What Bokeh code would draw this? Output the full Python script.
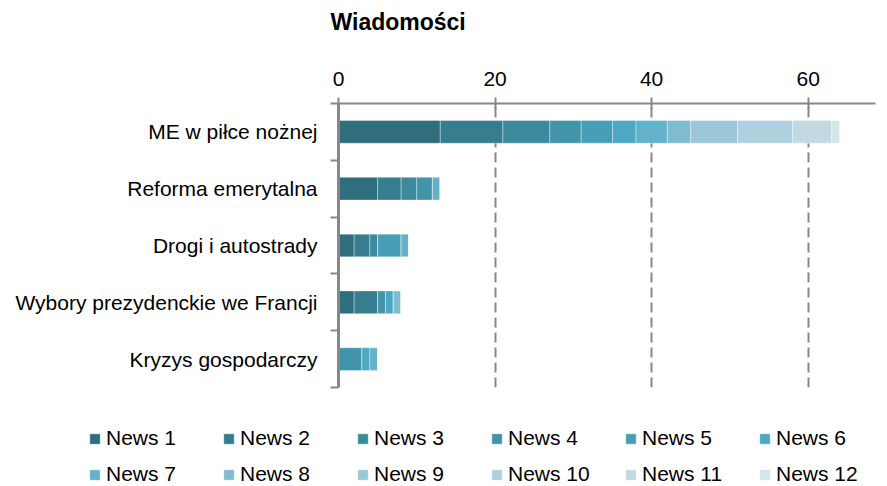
from bokeh.plotting import figure
from bokeh.layouts import column
from bokeh.models import (ColumnDataSource, Range1d, FixedTicker, Legend, LegendItem, Title)
from bokeh.embed import file_html
from bokeh.resources import INLINE

categories = ["ME w piłce nożnej", "Reforma emerytalna", "Drogi i autostrady",
              "Wybory prezydenckie we Francji", "Kryzys gospodarczy"]
series = ["News 1", "News 2", "News 3", "News 4", "News 5", "News 6",
          "News 7", "News 8", "News 9", "News 10", "News 11", "News 12"]
news1 = [13, 5, 2, 2, 0]
news2 = [8, 3, 2, 3, 0]
news3 = [6, 2, 1, 0, 0]
news4 = [4, 2, 0, 1, 3]
news5 = [4, 0, 3, 0, 0]
news6 = [3, 0, 0, 1, 1]
news7 = [4, 1, 1, 0, 1]
news8 = [3, 0, 0, 1, 0]
news9 = [6, 0, 0, 0, 0]
news10 = [7, 0, 0, 0, 0]
news11 = [5, 0, 0, 0, 0]
news12 = [1, 0, 0, 0, 0]
x_ticks = [0, 20, 40, 60]

colors = ["#2e6e7d", "#357d8f", "#3c8a9e", "#4294a9", "#479eb6", "#4ca8c3",
          "#62b2cb", "#80bcd0", "#9bc7d8", "#aed1e0", "#c2d9e4", "#d1e5eb"]

FONT = "Liberation Sans"
n = len(categories)
ypos = [2 * (n - i) - 1 for i in range(n)]  # top category first

data = {"y": ypos}
for name, vals in zip(series, [news1, news2, news3, news4, news5, news6,
                               news7, news8, news9, news10, news11, news12]):
    data[name] = vals
source = ColumnDataSource(data)

p = figure(width=887, height=405, output_backend="svg", toolbar_location=None,
           x_range=Range1d(0, 68.6), y_range=Range1d(0, 2 * n),
           x_axis_location="above", min_border_left=338, min_border_right=12,
           min_border_top=103, min_border_bottom=18)
p.outline_line_color = None
p.frame_align = False

p.title.text = "Wiadomości"
p.title.text_font = FONT
p.title.text_font_size = "23px"
p.title.text_font_style = "bold"
p.title.text_color = "black"
p.title.align = "left"
p.title.offset = -8
# spacer between the top axis and the title
p.add_layout(Title(text=" ", text_font_size="15px"), "above")

p.hbar_stack(series, y="y", height=0.8, color=colors, source=source,
             line_color="white", line_alpha=0.35, line_width=1)

# top axis
xa = p.xaxis[0]
xa.ticker = FixedTicker(ticks=x_ticks)
xa.axis_line_color = "#888888"
xa.axis_line_width = 2
xa.major_tick_line_color = "#888888"
xa.major_tick_line_width = 2
xa.major_tick_in = 6
xa.major_tick_out = 6
xa.minor_tick_line_color = None
xa.major_label_text_font = FONT
xa.major_label_text_font_size = "21px"
xa.major_label_text_color = "black"
xa.major_label_standoff = 12

# left axis
ya = p.yaxis[0]
ya.ticker = FixedTicker(ticks=ypos, minor_ticks=list(range(0, 2 * n + 1, 2)))
ya.major_label_overrides = {y: c for y, c in zip(ypos, categories)}
ya.axis_line_color = "#888888"
ya.axis_line_width = 3
ya.major_tick_line_color = None
ya.major_tick_in = 0
ya.major_tick_out = 0
ya.minor_tick_line_color = "#888888"
ya.minor_tick_line_width = 2
ya.minor_tick_in = 0
ya.minor_tick_out = 8
ya.major_label_text_font = FONT
ya.major_label_text_font_size = "21px"
ya.major_label_text_color = "black"
ya.major_label_standoff = 13

p.xgrid.ticker = FixedTicker(ticks=x_ticks)
p.xgrid.grid_line_color = "#888888"
p.xgrid.grid_line_width = 2
p.xgrid.grid_line_dash = "10 5"
# solid baseline along the bottom of the plot area
p.ygrid.ticker = FixedTicker(ticks=[0])
p.ygrid.grid_line_color = "#888888"
p.ygrid.grid_line_width = 2

# legend strip below the chart: the same stacked series, kept out of view, feed the swatches
lf = figure(width=887, height=81, output_backend="svg", toolbar_location=None,
            x_range=Range1d(-200, -100), y_range=Range1d(-30, -20),
            min_border_left=0, min_border_right=0, min_border_top=0, min_border_bottom=0)
lf.frame_align = False
lf.axis.visible = False
lf.xgrid.grid_line_color = None
lf.ygrid.grid_line_color = None
lf.outline_line_color = None
lf.border_fill_color = None
swatches = lf.hbar_stack(series, y="y", height=0.8, color=colors, source=source,
                         line_color="white", line_alpha=0.35, line_width=1)

legend = Legend(items=[LegendItem(label=s, renderers=[r]) for s, r in zip(series, swatches)],
                orientation="horizontal", ncols=6, location=(88, 0))
legend.label_text_font = FONT
legend.label_text_font_size = "21px"
legend.label_text_color = "black"
legend.glyph_width = 13
legend.glyph_height = 13
legend.label_standoff = 5
legend.label_width = 104
legend.label_height = 24
legend.spacing = 12
legend.padding = 0
legend.margin = 0
legend.border_line_color = None
legend.background_fill_color = None
lf.add_layout(legend, "center")

layout = column(p, lf, spacing=0)
open("out.html", "w").write(file_html(layout, INLINE))
